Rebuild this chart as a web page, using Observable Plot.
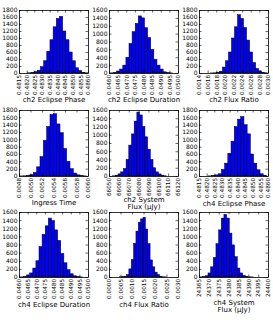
<!DOCTYPE html>
<html><head><meta charset="utf-8">
<script src="https://cdn.jsdelivr.net/npm/d3@7"></script>
<script src="https://cdn.jsdelivr.net/npm/@observablehq/plot@0.6"></script>
<style>
body{margin:0;background:#fff;}
#wrap{position:relative;width:273px;height:327px;overflow:hidden;background:#fff;}
#wrap svg{position:absolute;}
</style></head><body><div id="wrap"></div>
<script>
// ---- data ----
const titles = ["ch2 Eclipse Phase", "ch2 Eclipse Duration", "ch2 Flux Ratio",
  "Ingress Time", "ch2 System\nFlux (μJy)", "ch4 Eclipse Phase",
  "ch4 Eclipse Duration", "ch4 Flux Ratio", "ch4 System\nFlux (μJy)"];

const phaseTicks = [0.4815, 0.4820, 0.4825, 0.4830, 0.4835, 0.4840, 0.4845, 0.4850, 0.4855, 0.4860];
const durationTicks = [0.0460, 0.0465, 0.0470, 0.0475, 0.0480, 0.0485, 0.0490, 0.0495, 0.0500];
const ch2RatioTicks = [0.0014, 0.0016, 0.0018, 0.0020, 0.0022, 0.0024, 0.0026, 0.0028, 0.0030];
const ingressTicks = [0.0048, 0.0050, 0.0052, 0.0054, 0.0056, 0.0058, 0.0060];
const ch2FluxTicks = [66050, 66060, 66070, 66080, 66090, 66100, 66110, 66120];
const ch4RatioTicks = [0.0000, 0.0005, 0.0010, 0.0015, 0.0020, 0.0025, 0.0030];
const ch4FluxTicks = [24365, 24370, 24375, 24380, 24385, 24390, 24395, 24400];

const yTicks1800 = [0, 200, 400, 600, 800, 1000, 1200, 1400, 1600, 1800];
const yTicks1600 = [0, 200, 400, 600, 800, 1000, 1200, 1400, 1600];

// histogram bins: first bin edge, bin width, counts
const binStarts = [0.48207, 0.04608, 0.001663, 0.004817, 66053.7, 0.48212, 0.04608, 0.000454, 24365.5];
const binWidths = [0.000207, 0.00018, 0.00007, 0.000058, 2.73, 0.00021, 0.00018, 0.0001025, 1.35];

const ch2PhaseCounts = [5, 15, 40, 80, 180, 350, 620, 950, 1320, 1560, 1620, 1200, 950, 600, 350, 150, 70, 20, 5];
const ch2DurationCounts = [3, 10, 50, 100, 200, 400, 750, 1050, 1260, 1450, 1400, 1150, 900, 600, 350, 200, 100, 30, 10, 3];
const ch2RatioCounts = [2, 5, 20, 50, 170, 350, 600, 1000, 1320, 1665, 1560, 1300, 940, 600, 300, 130, 60, 20, 5];
const ingressCounts = [2, 5, 15, 40, 100, 250, 530, 970, 1350, 1680, 1700, 1420, 1180, 750, 400, 200, 80, 30, 10, 3];
const ch2FluxCounts = [5, 20, 50, 100, 180, 400, 750, 1020, 1330, 1550, 1480, 1200, 950, 650, 400, 200, 100, 50, 20, 5];
const ch4PhaseCounts = [3, 10, 30, 60, 180, 350, 620, 950, 1350, 1550, 1620, 1400, 1150, 600, 350, 170, 60, 20];
const ch4DurationCounts = [3, 10, 50, 100, 220, 400, 750, 1050, 1260, 1450, 1390, 1160, 900, 580, 350, 180, 80, 30, 10, 3];
const ch4RatioCounts = [5, 10, 20, 60, 200, 430, 830, 1130, 1350, 1430, 1470, 1180, 820, 420, 250, 120, 60, 20, 5, 2];
const ch4FluxCounts = [3, 10, 30, 100, 250, 480, 820, 1160, 1450, 1540, 1450, 1080, 790, 500, 220, 100, 40, 15, 5, 2];

// ---- panel setup ----
const panels = [
  {counts: ch2PhaseCounts, xTicks: phaseTicks, fmt: ".4f", yTicks: yTicks1800},
  {counts: ch2DurationCounts, xTicks: durationTicks, fmt: ".4f", yTicks: yTicks1600},
  {counts: ch2RatioCounts, xTicks: ch2RatioTicks, fmt: ".4f", yTicks: yTicks1800},
  {counts: ingressCounts, xTicks: ingressTicks, fmt: ".4f", yTicks: yTicks1800},
  {counts: ch2FluxCounts, xTicks: ch2FluxTicks, fmt: "d", yTicks: yTicks1600},
  {counts: ch4PhaseCounts, xTicks: phaseTicks, fmt: ".4f", yTicks: yTicks1800},
  {counts: ch4DurationCounts, xTicks: durationTicks, fmt: ".4f", yTicks: yTicks1600},
  {counts: ch4RatioCounts, xTicks: ch4RatioTicks, fmt: ".4f", yTicks: yTicks1600},
  {counts: ch4FluxCounts, xTicks: ch4FluxTicks, fmt: "d", yTicks: yTicks1600}
];

// layout (pixels)
const colLeft = [19, 109, 199];
const rowTop = [10, 110, 212];
const rowH = [63, 66, 65];
const frameW = 69;
const mL = 19, mT = 10, mR = 4, mB = 40;
const titleDy = [26.5, 26.5, 26.5, 26, 26.5, 27, 27, 27, 28.5];
const tickLen = 2.5;

const wrap = document.getElementById("wrap");

panels.forEach((p, k) => {
  const r = Math.floor(k / 3), c = k % 3;
  const h = rowH[r];
  const lo = binStarts[k], w = binWidths[k];
  const bins = p.counts.map((v, i) => ({x1: lo + i * w, x2: lo + (i + 1) * w, y: v}));
  const xs = p.xTicks, ys = p.yTicks;
  const fmt = d3.format(p.fmt);
  const chart = Plot.plot({
    width: mL + frameW + mR,
    height: mT + h + mB,
    marginLeft: mL, marginTop: mT, marginRight: mR, marginBottom: mB,
    style: {fontFamily: "DejaVu Sans", fontSize: "6px", background: "transparent", overflow: "visible", color: "#000"},
    x: {domain: [xs[0], xs[xs.length - 1]]},
    y: {domain: [ys[0], ys[ys.length - 1]]},
    marks: [
      Plot.rect(bins, {x1: "x1", x2: "x2", y1: 0, y2: "y", fill: "#0000ff", stroke: "#000", strokeWidth: 0.5}),
      Plot.frame({stroke: "#000", strokeWidth: 0.8}),
      Plot.ruleX(xs, {x: d => d, insetTop: h - tickLen, stroke: "#000", strokeWidth: 0.6}),
      Plot.ruleX(xs, {x: d => d, insetBottom: h - tickLen, stroke: "#000", strokeWidth: 0.6}),
      Plot.ruleY(ys, {y: d => d, insetRight: frameW - tickLen, stroke: "#000", strokeWidth: 0.6}),
      Plot.ruleY(ys, {y: d => d, insetLeft: frameW - tickLen, stroke: "#000", strokeWidth: 0.6}),
      Plot.axisX(xs, {tickSize: 0, tickRotate: -90, tickPadding: 1.5, tickFormat: fmt, label: null, fontSize: 5.7}),
      Plot.axisY(ys, {tickSize: 0, tickPadding: 2, tickFormat: d3.format("d"), label: null, fontSize: 6}),
      Plot.text([titles[k]], {text: d => d, frameAnchor: "bottom", lineAnchor: "middle", dy: titleDy[k], fontSize: 7, lineHeight: 1.05})
    ]
  });
  chart.style.left = (colLeft[c] - mL) + "px";
  chart.style.top = (rowTop[r] - mT) + "px";
  wrap.appendChild(chart);
});
</script>
</body></html>
